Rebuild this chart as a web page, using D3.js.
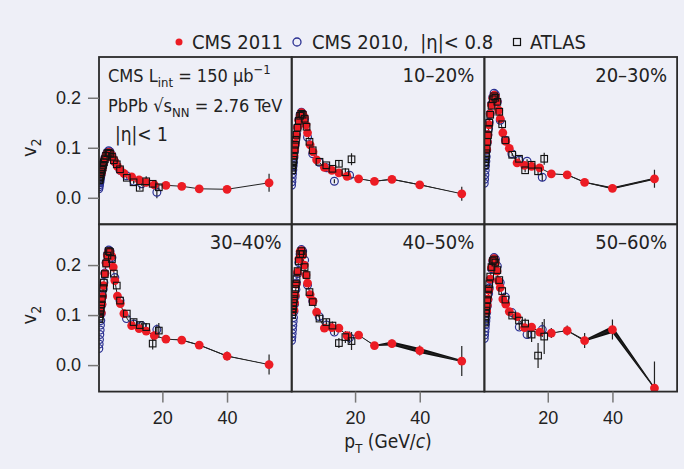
<!DOCTYPE html>
<html><head><meta charset="utf-8">
<script src="https://cdn.jsdelivr.net/npm/d3@7"></script>
<style>
body{margin:0;background:#eeeff7;}
svg{display:block;font-family:"Liberation Sans Narrow","Arial Narrow","DejaVu Sans Condensed",sans-serif;fill:#222;}
</style>
</head><body>
<svg id="c" width="684" height="469"></svg>
<script>
// ---------- data ----------
const panelLabels = ["", "10–20%", "20–30%", "30–40%", "40–50%", "50–60%"];
const yTicks = [0.0, 0.1, 0.2];
const xTicks = [20, 40];

const cms2011Pt = [1.1,1.3,1.5,1.8,2.2,2.6,3.0,3.4,3.8,4.3,4.8,5.3,6.1,7.0,8.1,10.5,12.8,15.0,17.5,21.1,26.0,31.4,40.0,53.0];
const cms2011V2 = [
 [0.048,0.055,0.061,0.069,0.078,0.085,0.089,0.091,0.090,0.085,0.078,0.072,0.063,0.055,0.049,0.042,0.036,0.031,0.026,0.025,0.023,0.018,0.017,0.030],
 [0.085,0.097,0.108,0.124,0.141,0.155,0.164,0.170,0.168,0.161,0.146,0.130,0.106,0.092,0.076,0.061,0.055,0.050,0.043,0.038,0.033,0.037,0.026,0.008],
 [0.097,0.112,0.126,0.146,0.168,0.186,0.199,0.205,0.203,0.193,0.175,0.158,0.130,0.113,0.099,0.070,0.065,0.063,0.060,0.048,0.046,0.031,0.019,0.038],
 [0.105,0.122,0.137,0.159,0.183,0.204,0.219,0.227,0.226,0.218,0.196,0.169,0.138,0.123,0.103,0.079,0.073,0.068,0.059,0.052,0.050,0.040,0.018,0.001],
 [0.110,0.125,0.140,0.162,0.186,0.212,0.227,0.229,0.220,0.200,0.180,0.164,0.141,0.128,0.106,0.074,0.075,0.074,0.059,0.060,0.039,0.043,0.029,0.008],
 [0.108,0.120,0.132,0.150,0.172,0.195,0.210,0.213,0.205,0.188,0.168,0.155,0.132,0.122,0.107,0.097,0.075,0.076,0.066,0.064,0.069,0.049,0.071,-0.046]
];
const cms2011Err = [
 [0,0,0,0,0,0,0,0,0,0,0,0,0,0,0,0.002,0.002,0.003,0.003,0.003,0.003,0.004,0.006,0.018],
 [0,0,0,0,0,0,0,0,0,0,0,0,0,0,0,0.002,0.002,0.003,0.003,0.003,0.003,0.004,0.006,0.014],
 [0,0,0,0,0,0,0,0,0,0,0,0,0,0,0,0.002,0.002,0.003,0.003,0.003,0.003,0.004,0.007,0.018],
 [0,0,0,0,0,0,0,0,0,0,0,0,0,0,0,0.002,0.003,0.003,0.004,0.004,0.004,0.006,0.009,0.020],
 [0,0,0,0,0,0,0,0,0,0,0,0,0,0,0,0.003,0.003,0.004,0.005,0.005,0.006,0.008,0.010,0.030],
 [0,0,0,0,0,0,0,0,0,0,0,0,0,0,0,0.004,0.005,0.006,0.006,0.010,0.010,0.015,0.020,0.053]
];
const cms2011Sys = [
 [0,0,0,0,0,0,0,0,0,0,0,0,0,0,0,0,0,0,0,0,0,0,0,0],
 [0,0,0,0,0,0,0,0,0,0,0,0,0,0,0,0,0,0,0,0,0.001,0.001,0.001,0],
 [0,0,0,0,0,0,0,0,0,0,0,0,0,0,0,0,0,0,0,0,0.001,0.001,0.002,0.002],
 [0,0,0,0,0,0,0,0,0,0,0,0,0,0,0,0,0,0,0,0,0.001,0.001,0.001,0],
 [0,0,0,0,0,0,0,0,0,0,0,0,0,0,0,0,0,0,0,0,0.001,0.004,0.005,0.002],
 [0,0,0,0,0,0,0,0,0,0,0,0,0,0,0,0,0,0,0,0,0.001,0.002,0.007,0.002]
];

const cms2010Pt = [0.35,0.45,0.55,0.65,0.75,0.85,0.95,1.1,1.3,1.5,1.7,1.9,2.2,2.6,3.0,3.4,3.8,4.4,5.3,6.9,8.9,11.2,13.6,18.3];
const cms2010V2 = [
 [0.018,0.022,0.026,0.030,0.034,0.039,0.043,0.048,0.055,0.062,0.067,0.072,0.079,0.086,0.091,0.094,0.092,0.085,0.072,0.055,0.044,0.033,0.028,0.011],
 [0.025,0.032,0.040,0.048,0.056,0.064,0.071,0.081,0.094,0.106,0.117,0.127,0.141,0.156,0.166,0.171,0.168,0.158,0.121,0.088,0.071,0.060,0.033,0.045],
 [0.029,0.037,0.046,0.055,0.064,0.073,0.082,0.095,0.111,0.126,0.139,0.151,0.168,0.187,0.201,0.209,0.206,0.192,0.155,0.115,0.088,0.075,0.073,0.041],
 [0.033,0.042,0.051,0.061,0.070,0.080,0.089,0.103,0.121,0.137,0.152,0.165,0.184,0.205,0.221,0.230,0.228,0.215,0.175,0.129,0.093,0.082,0.079,0.071],
 [0.049,0.056,0.063,0.071,0.079,0.087,0.095,0.107,0.122,0.137,0.151,0.164,0.183,0.205,0.222,0.231,0.228,0.210,0.160,0.128,0.097,0.080,0.066,0.055],
 [0.053,0.060,0.067,0.074,0.081,0.088,0.095,0.105,0.118,0.131,0.143,0.154,0.171,0.193,0.208,0.215,0.212,0.198,0.165,0.136,0.105,0.076,0.061,0.071]
];
const cms2010Err = [
 [0,0,0,0,0,0,0,0,0,0,0,0,0,0,0,0,0,0,0,0,0,0.003,0.004,0.012],
 [0,0,0,0,0,0,0,0,0,0,0,0,0,0,0,0,0,0,0,0,0,0.003,0.004,0.006],
 [0,0,0,0,0,0,0,0,0,0,0,0,0,0,0,0,0,0,0,0,0,0.003,0.004,0.008],
 [0,0,0,0,0,0,0,0,0,0,0,0,0,0,0,0,0,0,0,0,0,0.004,0.005,0.010],
 [0,0,0,0,0,0,0,0,0,0,0,0,0,0,0,0,0,0,0,0,0,0.005,0.006,0.012],
 [0,0,0,0,0,0,0,0,0,0,0,0,0,0,0,0,0,0,0,0,0,0.006,0.008,0.015]
];

const atlasPt = [0.55,0.65,0.75,0.85,0.95,1.1,1.3,1.5,1.7,1.9,2.2,2.6,3.0,3.4,3.8,4.4,5.0,5.9,6.9,9.0,11.1,13.0,15.0,17.0,18.9];
const atlasV2 = [
 [0.035,0.038,0.041,0.044,0.047,0.051,0.056,0.061,0.066,0.071,0.077,0.084,0.089,0.090,0.088,0.082,0.075,0.067,0.057,0.040,0.031,0.020,0.033,0.028,0.021],
 [0.055,0.060,0.065,0.071,0.076,0.084,0.095,0.106,0.116,0.126,0.140,0.154,0.164,0.168,0.166,0.158,0.142,0.112,0.095,0.072,0.065,0.058,0.068,0.051,0.077],
 [0.065,0.071,0.077,0.083,0.089,0.098,0.112,0.125,0.138,0.150,0.166,0.184,0.197,0.203,0.200,0.192,0.172,0.147,0.115,0.086,0.078,0.055,0.066,0.053,0.078],
 [0.092,0.097,0.102,0.108,0.113,0.121,0.132,0.143,0.154,0.165,0.182,0.203,0.219,0.228,0.226,0.212,0.183,0.159,0.129,0.103,0.086,0.080,0.076,0.043,0.069],
 [0.100,0.106,0.112,0.118,0.124,0.132,0.142,0.152,0.162,0.172,0.188,0.208,0.222,0.228,0.222,0.196,0.180,0.146,0.126,0.093,0.086,0.079,0.044,0.056,0.048],
 [0.085,0.091,0.097,0.103,0.109,0.118,0.130,0.141,0.152,0.162,0.177,0.196,0.208,0.211,0.205,0.190,0.170,0.148,0.131,0.099,0.089,0.083,0.061,0.019,0.057]
];
const atlasErr = [
 [0,0,0,0,0,0,0,0,0,0,0,0,0,0,0,0,0,0,0,0.002,0.003,0.004,0.010,0.006,0.006],
 [0,0,0,0,0,0,0,0,0,0,0,0,0,0,0,0,0,0,0,0.003,0.004,0.004,0.006,0.008,0.012],
 [0,0,0,0,0,0,0,0,0,0,0,0,0,0,0,0,0,0,0,0.003,0.004,0.004,0.006,0.008,0.012],
 [0,0,0,0,0,0,0,0,0,0,0,0,0,0,0,0,0,0,0,0.004,0.005,0.006,0.008,0.012,0.015],
 [0,0,0,0,0,0,0,0,0,0,0,0,0,0,0,0,0,0,0,0.005,0.006,0.008,0.010,0.012,0.018],
 [0,0,0,0,0,0,0,0,0,0,0,0,0,0,0,0,0,0,0,0.006,0.008,0.010,0.015,0.025,0.035]
];

// ---------- layout ----------
const svg = d3.select("#c");
const W = 684, H = 469;
svg.append("rect").attr("width", W).attr("height", H).attr("fill", "#eeeff7");
const L = 99, T = 57, PW = 192.7, PH = 167.3;
const RED = "#ec1c24", BLUE = "#2b3192";

for (let i = 0; i < 6; i++) {
  const col = i % 3, row = Math.floor(i / 3);
  const x0 = L + col * PW, y0 = T + row * PH;
  const x = d3.scaleLinear().domain([0.4, 60]).range([x0, x0 + PW]);
  const y = d3.scaleLinear().domain([-0.053, 0.2815]).range([y0 + PH, y0]);
  const g = svg.append("g");
  const cid = "clip" + i;
  svg.append("clipPath").attr("id", cid).append("rect")
     .attr("x", x0).attr("y", y0).attr("width", PW).attr("height", PH);
  const pg = g.append("g").attr("clip-path", `url(#${cid})`);

  // band + line for CMS 2011
  const d11 = cms2011Pt.map((p, k) => ({p, v: cms2011V2[i][k], e: cms2011Err[i][k], s: cms2011Sys[i][k]}));
  pg.append("path").datum(d11)
    .attr("d", d3.area().x(d => x(d.p)).y0(d => y(d.v - d.s)).y1(d => y(d.v + d.s)))
    .attr("fill", "#111");
  pg.append("path").datum(d11)
    .attr("d", d3.line().x(d => x(d.p)).y(d => y(d.v)))
    .attr("fill", "none").attr("stroke", "#222").attr("stroke-width", 1);

  // CMS 2010 blue circles
  const d10 = cms2010Pt.map((p, k) => ({p, v: cms2010V2[i][k], e: cms2010Err[i][k]}));
  pg.selectAll(".e10").data(d10.filter(d => d.e > 0)).join("line")
    .attr("x1", d => x(d.p)).attr("x2", d => x(d.p))
    .attr("y1", d => y(d.v - d.e)).attr("y2", d => y(d.v + d.e))
    .attr("stroke", "#222").attr("stroke-width", 1.2);
  pg.selectAll(".c10").data(d10).join("circle")
    .attr("cx", d => x(d.p)).attr("cy", d => y(d.v)).attr("r", 3.9)
    .attr("fill", "none").attr("stroke", BLUE).attr("stroke-width", 1.2);

  // ATLAS error bars
  const da = atlasPt.map((p, k) => ({p, v: atlasV2[i][k], e: atlasErr[i][k]}));
  pg.selectAll(".ea").data(da.filter(d => d.e > 0)).join("line")
    .attr("x1", d => x(d.p)).attr("x2", d => x(d.p))
    .attr("y1", d => y(d.v - d.e)).attr("y2", d => y(d.v + d.e))
    .attr("stroke", "#222").attr("stroke-width", 1.2);

  // CMS 2011 error bars and dots
  pg.selectAll(".e11").data(d11.filter(d => d.e > 0)).join("line")
    .attr("x1", d => x(d.p)).attr("x2", d => x(d.p))
    .attr("y1", d => y(d.v - d.e)).attr("y2", d => y(d.v + d.e))
    .attr("stroke", "#222").attr("stroke-width", 1.2);
  pg.selectAll(".c11").data(d11).join("circle")
    .attr("cx", d => x(d.p)).attr("cy", d => y(d.v)).attr("r", 4.4)
    .attr("fill", RED);

  // ATLAS squares
  pg.selectAll(".sa").data(da).join("rect")
    .attr("x", d => x(d.p) - 3.3).attr("y", d => y(d.v) - 3.3)
    .attr("width", 6.6).attr("height", 6.6)
    .attr("fill", "none").attr("stroke", "#111").attr("stroke-width", 1.1);

  // frame
  g.append("rect").attr("x", x0).attr("y", y0).attr("width", PW).attr("height", PH)
    .attr("fill", "none").attr("stroke", "#2a2a2a").attr("stroke-width", 1.8);

  // axes
  if (col === 0) {
    const ax = g.append("g").attr("transform", `translate(${x0},0)`)
      .call(d3.axisLeft(y).tickValues(yTicks).tickSize(11).tickPadding(7).tickFormat(d3.format(".1f")));
    ax.select(".domain").remove();
    ax.selectAll(".tick line").attr("stroke", "#777").attr("stroke-width", 1.5);
    ax.selectAll(".tick text").attr("fill", "#222").attr("font-size", 18).attr("font-family", null);
    const yl = g.append("text").attr("transform", `translate(36,${y(0.1)}) rotate(-90)`)
      .attr("text-anchor", "middle").attr("font-size", 20).attr("fill", "#222");
    yl.append("tspan").text("v");
    yl.append("tspan").attr("font-size", 14).attr("dy", 5).text("2");
  }
  if (row === 1) {
    const ax = g.append("g").attr("transform", `translate(0,${y0 + PH})`)
      .call(d3.axisBottom(x).tickValues(xTicks).tickSize(11).tickPadding(9).tickFormat(d3.format("d")));
    ax.select(".domain").remove();
    ax.selectAll(".tick line").attr("stroke", "#777").attr("stroke-width", 1.5);
    ax.selectAll(".tick text").attr("fill", "#222").attr("font-size", 18).attr("font-family", null);
  }
  if (panelLabels[i]) {
    g.append("text").attr("x", x0 + PW - 10).attr("y", y0 + 25)
      .attr("text-anchor", "end").attr("font-size", 20).attr("fill", "#222").text(panelLabels[i]);
  }
}

// in-panel text (first panel)
const t1 = svg.append("text").attr("x", 108).attr("y", 82).attr("font-size", 18).attr("fill", "#222");
t1.append("tspan").text("CMS L");
t1.append("tspan").attr("font-size", 13).attr("dy", 5).text("int");
t1.append("tspan").attr("dy", -5).text(" = 150 μb");
t1.append("tspan").attr("font-size", 13).attr("dy", -8).text("−1");
const t2 = svg.append("text").attr("x", 108).attr("y", 112).attr("font-size", 18).attr("fill", "#222");
t2.append("tspan").text("PbPb √s");
t2.append("tspan").attr("font-size", 13).attr("dy", 5).text("NN");
t2.append("tspan").attr("dy", -5).text(" = 2.76 TeV");
svg.append("text").attr("x", 115).attr("y", 141).attr("font-size", 19).attr("fill", "#222").text("|η|< 1");

// x axis title
const xt = svg.append("text").attr("x", 388).attr("y", 448).attr("text-anchor", "middle")
  .attr("font-size", 19).attr("fill", "#222");
xt.append("tspan").text("p");
xt.append("tspan").attr("font-size", 13).attr("dy", 5).text("T");
xt.append("tspan").attr("dy", -5).text(" (GeV/");
xt.append("tspan").attr("font-style", "italic").text("c");
xt.append("tspan").text(")");

// legend
const lg = svg.append("g");
lg.append("circle").attr("cx", 179).attr("cy", 42).attr("r", 3.5).attr("fill", RED);
lg.append("text").attr("x", 192).attr("y", 49).attr("font-size", 20).attr("fill", "#222").text("CMS 2011");
lg.append("circle").attr("cx", 297).attr("cy", 42).attr("r", 4).attr("fill", "none").attr("stroke", BLUE).attr("stroke-width", 1.3);
lg.append("text").attr("x", 312).attr("y", 49).attr("font-size", 20).attr("fill", "#222").text("CMS 2010,\u00a0 |η|< 0.8");
lg.append("rect").attr("x", 513.5).attr("y", 38.5).attr("width", 7).attr("height", 7).attr("fill", "none").attr("stroke", "#111").attr("stroke-width", 1.2);
lg.append("text").attr("x", 530).attr("y", 49).attr("font-size", 20).attr("fill", "#222").text("ATLAS");
</script>
</body></html>
